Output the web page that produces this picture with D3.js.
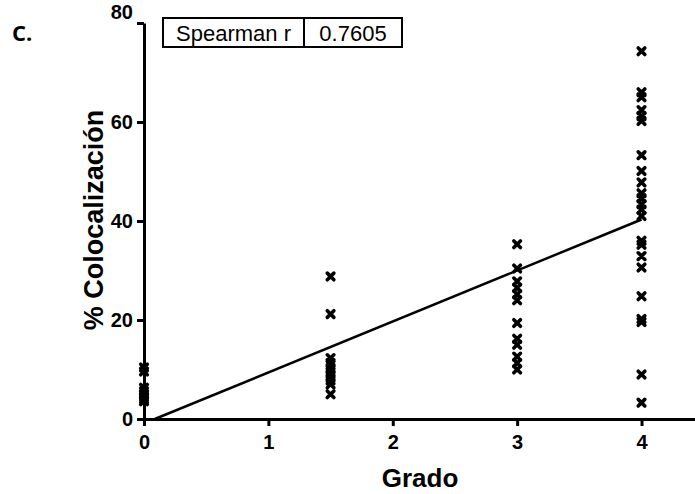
<!DOCTYPE html>
<html>
<head>
<meta charset="utf-8">
<script src="https://cdn.jsdelivr.net/npm/d3@7"></script>
<style>
  html, body { margin: 0; padding: 0; background: #fff; }
  svg { display: block; }
</style>
</head>
<body>
<svg id="chart" width="695" height="494"></svg>
<script>
// Grade groups and % colocalization per sample
const grades = [0, 1.5, 3, 4];
const grade0 = [10.4, 9.6, 6.3, 5.6, 5.0, 4.5, 4.0, 3.6];
const grade15 = [28.8, 21.2, 12.3, 11.3, 10.3, 9.5, 8.7, 7.8, 7.0, 5.0];
const grade3 = [35.3, 30.4, 27.8, 26.5, 25.2, 24.0, 19.4, 16.2, 15.0, 12.6, 11.3, 10.0];
const grade4 = [74.3, 66.0, 65.0, 62.4, 61.2, 60.2, 53.3, 50.1, 47.8, 45.6, 44.6, 43.4,
                42.3, 41.0, 36.0, 35.2, 32.9, 30.6, 24.8, 20.2, 19.6, 9.0, 3.3];
const xTicks = [0, 1, 2, 3, 4];
const yTicks = [0, 20, 40, 60, 80];
// trend line end points (grade, %)
const trendX = [0.087, 4];
const trendY = [0, 40.3];
const statLabel = "Spearman r";
const statValue = "0.7605";

const groups = [grade0, grade15, grade3, grade4];
const points = [];
groups.forEach((vals, i) => vals.forEach(v => points.push({ g: grades[i], v })));

const svg = d3.select("#chart");
const x = d3.scaleLinear().domain([0, 4.43]).range([144, 695]);
const y = d3.scaleLinear().domain([0, 80]).range([419, 23]);
const sans = "Liberation Sans, Arial, sans-serif";

// axes
const xAxis = svg.append("g").attr("transform", `translate(0,${y(0)})`)
  .call(d3.axisBottom(x).tickValues(xTicks).tickFormat(d3.format("d")).tickSize(7).tickSizeOuter(0));
const yAxis = svg.append("g").attr("transform", `translate(${x(0)},0)`)
  .call(d3.axisLeft(y).tickValues(yTicks).tickSize(7).tickSizeOuter(0));

[xAxis, yAxis].forEach(a => {
  a.select(".domain").attr("stroke", "#000").attr("stroke-width", 3);
  a.selectAll(".tick line").attr("stroke", "#000").attr("stroke-width", 3);
  a.selectAll(".tick text")
    .attr("font-family", sans)
    .attr("font-weight", "bold").attr("font-size", 20).attr("fill", "#000");
});
xAxis.selectAll(".tick text").attr("dy", "0.98em");
yAxis.selectAll(".tick text").attr("dx", "-0.05em");
// top label sits just above the axis end
yAxis.selectAll(".tick text").filter(d => d === 80).attr("dy", "-0.25em");

// trend line
svg.append("line")
  .attr("x1", x(trendX[0])).attr("y1", y(trendY[0]))
  .attr("x2", x(trendX[1])).attr("y2", y(trendY[1]))
  .attr("stroke", "#000").attr("stroke-width", 2.5);

// points as bold crosses
const s = 3.3;
svg.append("g").selectAll("path").data(points).join("path")
  .attr("transform", d => `translate(${x(d.g)},${y(d.v)})`)
  .attr("d", `M${-s},${-s}L${s},${s}M${-s},${s}L${s},${-s}`)
  .attr("stroke", "#000").attr("stroke-width", 3.6).attr("stroke-linecap", "round");

// axis titles
svg.append("text")
  .attr("x", 420).attr("y", 487).attr("text-anchor", "middle")
  .attr("font-family", sans)
  .attr("font-weight", "bold").attr("font-size", 26).text("Grado");
svg.append("text")
  .attr("transform", `translate(103,220) rotate(-90)`).attr("text-anchor", "middle")
  .attr("font-family", sans)
  .attr("font-weight", "bold").attr("font-size", 27).text("% Colocalización");

// panel letter
svg.append("text").attr("x", 12).attr("y", 41)
  .attr("font-family", "Open Sans, Lato, sans-serif")
  .attr("font-weight", "bold").attr("font-size", 22).text("C.");

// statistics box
const box = svg.append("g");
const bx0 = 163, bx1 = 304, bx2 = 402, by0 = 18, by1 = 47;
box.append("rect").attr("x", bx0).attr("y", by0).attr("width", bx2 - bx0).attr("height", by1 - by0)
  .attr("fill", "#fff").attr("stroke", "#000").attr("stroke-width", 2);
box.append("line").attr("x1", bx1).attr("x2", bx1).attr("y1", by0).attr("y2", by1)
  .attr("stroke", "#000").attr("stroke-width", 2);
box.append("text").attr("x", (bx0 + bx1) / 2).attr("y", 41).attr("text-anchor", "middle")
  .attr("font-family", sans).attr("font-size", 22).text(statLabel);
box.append("text").attr("x", (bx1 + bx2) / 2).attr("y", 41).attr("text-anchor", "middle")
  .attr("font-family", sans).attr("font-size", 22).text(statValue);
</script>
</body>
</html>
